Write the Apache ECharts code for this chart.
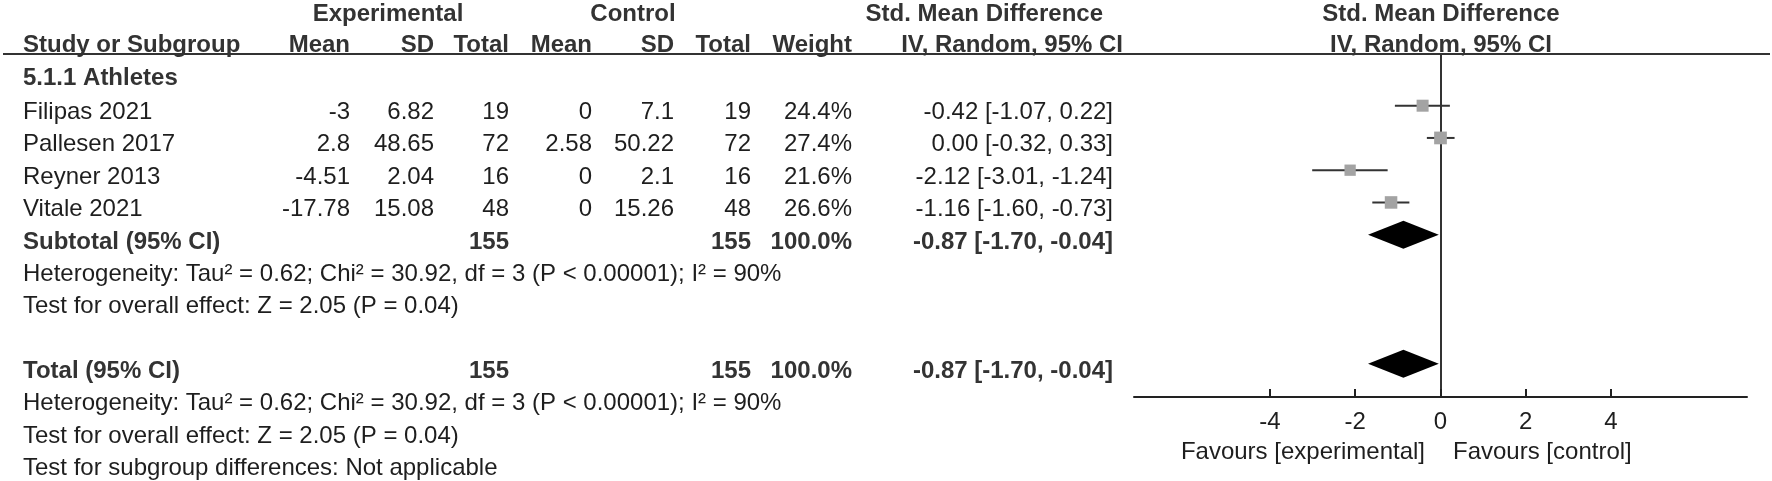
<!DOCTYPE html>
<html><head><meta charset="utf-8">
<script src="https://cdn.jsdelivr.net/npm/echarts@6/dist/echarts.min.js"></script>
<style>html,body{margin:0;padding:0;background:#fff}#c{width:1772px;height:481px}</style>
</head><body><div id="c"></div>
<script>
// ---- data ----
const studies = ['Filipas 2021', 'Pallesen 2017', 'Reyner 2013', 'Vitale 2021'];
const expMean = ['-3', '2.8', '-4.51', '-17.78'];
const expSD = ['6.82', '48.65', '2.04', '15.08'];
const expTotal = ['19', '72', '16', '48'];
const ctlMean = ['0', '2.58', '0', '0'];
const ctlSD = ['7.1', '50.22', '2.1', '15.26'];
const ctlTotal = ['19', '72', '16', '48'];
const weights = [24.4, 27.4, 21.6, 26.6];
const smd = [-0.42, 0.00, -2.12, -1.16];
const ciLow = [-1.07, -0.32, -3.01, -1.60];
const ciHigh = [0.22, 0.33, -1.24, -0.73];

const pooledLabels = ['Subtotal (95% CI)', 'Total (95% CI)'];
const pooledRows = [4, 8];
const pooledExpTotal = ['155', '155'];
const pooledCtlTotal = ['155', '155'];
const pooledWeight = ['100.0%', '100.0%'];
const pooledEst = [-0.87, -0.87];
const pooledLow = [-1.70, -1.70];
const pooledHigh = [-0.04, -0.04];

const groupLabel = '5.1.1 Athletes';
const hetText = 'Heterogeneity: Tau\u00B2 = 0.62; Chi\u00B2 = 30.92, df = 3 (P < 0.00001); I\u00B2 = 90%';
const overallText = 'Test for overall effect: Z = 2.05 (P = 0.04)';
const subgroupText = 'Test for subgroup differences: Not applicable';
const xTicks = [-4, -2, 0, 2, 4];
const favourLeft = 'Favours [experimental]';
const favourRight = 'Favours [control]';

// ---- layout ----
const FONT = "'Liberation Sans', Arial, sans-serif";
const REG = '24px ' + FONT;
const BOLD = 'bold 24px ' + FONT;
const CREG = '#1e1e1e';
const CBOLD = '#333';
const rowY = k => 112.5 + 32.35 * k;
const colRight = { expMean: 350, expSD: 434, expTotal: 509, ctlMean: 592, ctlSD: 674, ctlTotal: 751, weight: 852, smd: 1113 };
const fmt = v => v.toFixed(2);
const ciStr = (e, l, h) => fmt(e) + ' [' + fmt(l) + ', ' + fmt(h) + ']';

const els = [];
function txt(s, x, y, align, bold) {
  els.push({ type: 'text', x: x, y: y, silent: true, z: 10,
    style: { text: s, font: bold ? BOLD : REG, fill: bold ? CBOLD : CREG, textAlign: align, textVerticalAlign: 'middle' } });
}
// headers
txt('Experimental', 388, 14, 'center', true);
txt('Control', 633, 14, 'center', true);
txt('Std. Mean Difference', 1103, 14, 'right', true);
txt('Std. Mean Difference', 1441, 14, 'center', true);
txt('Study or Subgroup', 23, 45, 'left', true);
txt('Mean', colRight.expMean, 45, 'right', true);
txt('SD', colRight.expSD, 45, 'right', true);
txt('Total', colRight.expTotal, 45, 'right', true);
txt('Mean', colRight.ctlMean, 45, 'right', true);
txt('SD', colRight.ctlSD, 45, 'right', true);
txt('Total', colRight.ctlTotal, 45, 'right', true);
txt('Weight', colRight.weight, 45, 'right', true);
txt('IV, Random, 95% CI', 1123, 45, 'right', true);
txt('IV, Random, 95% CI', 1441, 45, 'center', true);
els.push({ type: 'line', silent: true, z: 10, shape: { x1: 3, y1: 54, x2: 1770, y2: 54 }, style: { stroke: '#333', lineWidth: 2 } });
txt(groupLabel, 23, 78, 'left', true);
studies.forEach((s, i) => {
  const y = rowY(i);
  txt(s, 23, y, 'left', false);
  txt(expMean[i], colRight.expMean, y, 'right', false);
  txt(expSD[i], colRight.expSD, y, 'right', false);
  txt(expTotal[i], colRight.expTotal, y, 'right', false);
  txt(ctlMean[i], colRight.ctlMean, y, 'right', false);
  txt(ctlSD[i], colRight.ctlSD, y, 'right', false);
  txt(ctlTotal[i], colRight.ctlTotal, y, 'right', false);
  txt(weights[i].toFixed(1) + '%', colRight.weight, y, 'right', false);
  txt(ciStr(smd[i], ciLow[i], ciHigh[i]), colRight.smd, y, 'right', false);
});
pooledLabels.forEach((s, j) => {
  const r = pooledRows[j];
  const y = rowY(r);
  txt(s, 23, y, 'left', true);
  txt(pooledExpTotal[j], colRight.expTotal, y, 'right', true);
  txt(pooledCtlTotal[j], colRight.ctlTotal, y, 'right', true);
  txt(pooledWeight[j], colRight.weight, y, 'right', true);
  txt(ciStr(pooledEst[j], pooledLow[j], pooledHigh[j]), colRight.smd, y, 'right', true);
  txt(hetText, 23, rowY(r + 1), 'left', false);
  txt(overallText, 23, rowY(r + 2), 'left', false);
});
txt(subgroupText, 23, rowY(11), 'left', false);
txt(favourLeft, 1425, 452, 'right', false);
txt(favourRight, 1453, 452, 'left', false);

const chart = echarts.init(document.getElementById('c'), null, { renderer: 'canvas' });
chart.setOption({
  animation: false,
  backgroundColor: '#fff',
  grid: { left: 1134, width: 613, top: 54, bottom: 84, containLabel: false },
  xAxis: {
    type: 'value', min: -7.19, max: 7.19, position: 'bottom',
    axisLine: { show: true, onZero: false, lineStyle: { color: '#222', width: 2 } },
    axisTick: { show: true, inside: true, length: 8, customValues: xTicks, lineStyle: { color: '#222', width: 2 } },
    axisLabel: { show: true, customValues: xTicks, margin: 13, fontSize: 24, color: '#1e1e1e', fontFamily: FONT },
    splitLine: { show: false }
  },
  yAxis: {
    type: 'value', inverse: true, min: -1.603, max: 9.033,
    axisLine: { show: true, onZero: true, lineStyle: { color: '#333', width: 2 } },
    axisTick: { show: false }, axisLabel: { show: false }, splitLine: { show: false }
  },
  series: [
    {
      type: 'custom', z: 2, clip: false,
      data: studies.map((s, i) => [ciLow[i], ciHigh[i], i]),
      encode: { x: [0, 1], y: 2 },
      renderItem: (params, api) => {
        const a = api.coord([api.value(0), api.value(2)]);
        const b = api.coord([api.value(1), api.value(2)]);
        return { type: 'line', shape: { x1: a[0], y1: a[1], x2: b[0], y2: b[1] }, style: { stroke: '#333', lineWidth: 2 } };
      }
    },
    {
      type: 'scatter', z: 3, symbol: 'rect',
      data: studies.map((s, i) => ({ value: [smd[i], i], symbolSize: 12 * Math.sqrt(weights[i] / 24.4) })),
      itemStyle: { color: '#a3a3a3', opacity: 1 }
    },
    {
      type: 'custom', z: 3, clip: false,
      data: pooledRows.map((r, j) => [pooledLow[j], pooledEst[j], pooledHigh[j], r]),
      encode: { x: [0, 1, 2], y: 3 },
      renderItem: (params, api) => {
        const r = api.value(3);
        const l = api.coord([api.value(0), r]);
        const m = api.coord([api.value(1), r]);
        const h = api.coord([api.value(2), r]);
        const hh = 14;
        return { type: 'polygon', shape: { points: [[l[0], l[1]], [m[0], m[1] - hh], [h[0], h[1]], [m[0], m[1] + hh]] }, style: { fill: '#000' } };
      }
    }
  ],
  graphic: { elements: els }
});
</script>
</body></html>
